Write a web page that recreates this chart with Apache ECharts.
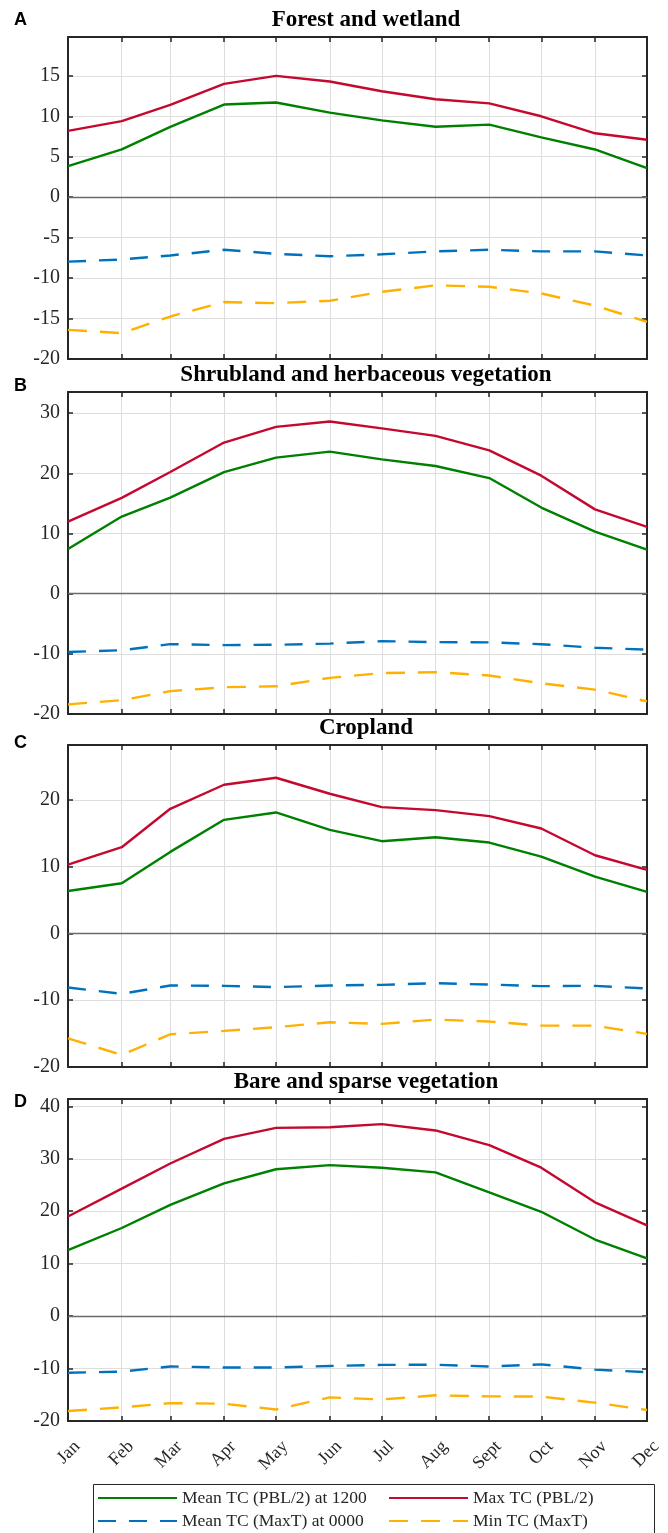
<!DOCTYPE html>
<html>
<head>
<meta charset="utf-8">
<script src="https://cdn.jsdelivr.net/npm/echarts@6/dist/echarts.min.js"></script>
<style>html,body{margin:0;padding:0;background:#fff}#c{width:668px;height:1533px}</style>
</head>
<body>
<div id="c"></div>
<script>
// ---- data ----
const months = ['Jan','Feb','Mar','Apr','May','Jun','Jul','Aug','Sept','Oct','Nov','Dec'];
const monthStartDay = [0,31,59,90,120,151,181,212,243,273,304,334];
const panelTitles = ['Forest and wetland','Shrubland and herbaceous vegetation','Cropland','Bare and sparse vegetation'];
const panelLetters = ['A','B','C','D'];
const seriesNames = ['Mean TC (PBL/2) at 1200','Max TC (PBL/2)','Mean TC (MaxT) at 0000','Min TC (MaxT)'];

const forestMean1200 = [3.85,5.9,8.7,11.45,11.7,10.45,9.5,8.7,8.97,7.4,5.9,3.6];
const forestMaxPBL   = [8.2,9.4,11.4,14.0,15.0,14.3,13.1,12.1,11.6,10.0,7.9,7.1];
const forestMean0000 = [-7.97,-7.7,-7.2,-6.5,-7.0,-7.3,-7.06,-6.7,-6.5,-6.7,-6.7,-7.2];
const forestMinMaxT  = [-16.4,-16.8,-14.75,-12.96,-13.1,-12.8,-11.7,-10.9,-11.07,-11.9,-13.4,-15.4];

const shrubMean1200 = [7.4,12.8,15.95,20.2,22.6,23.6,22.3,21.2,19.2,14.3,10.3,7.3];
const shrubMaxPBL   = [11.95,15.9,20.2,25.1,27.7,28.6,27.45,26.2,23.8,19.6,14.0,11.1];
const shrubMean0000 = [-9.7,-9.4,-8.4,-8.55,-8.5,-8.3,-7.9,-8.05,-8.1,-8.4,-9.0,-9.3];
const shrubMinMaxT  = [-18.4,-17.7,-16.2,-15.55,-15.4,-14.0,-13.2,-13.05,-13.6,-14.9,-15.95,-17.9];

const cropMean1200 = [6.35,7.5,12.2,17.0,18.1,15.5,13.8,14.4,13.6,11.5,8.5,6.2];
const cropMaxPBL   = [10.3,12.9,18.65,22.25,23.3,20.9,18.9,18.45,17.55,15.7,11.7,9.5];
const cropMean0000 = [-8.1,-9.05,-7.8,-7.85,-8.05,-7.8,-7.7,-7.46,-7.66,-7.9,-7.85,-8.25];
const cropMinMaxT  = [-15.7,-18.2,-15.1,-14.6,-14.05,-13.3,-13.55,-12.9,-13.2,-13.8,-13.8,-15.05];

const bareMean1200 = [12.6,16.8,21.2,25.3,28.0,28.8,28.3,27.4,23.6,19.9,14.6,11.0];
const bareMaxPBL   = [19.0,24.3,29.1,33.8,35.9,36.0,36.6,35.4,32.6,28.3,21.7,17.3];
const bareMean0000 = [-10.8,-10.6,-9.6,-9.8,-9.8,-9.5,-9.3,-9.27,-9.6,-9.2,-10.2,-10.7];
const bareMinMaxT  = [-18.1,-17.4,-16.6,-16.7,-17.8,-15.5,-15.9,-15.1,-15.3,-15.35,-16.5,-17.9];

const yTickInterval = [5,10,10,10];
const yMin = [-20,-20,-20,-20];
const yMax = [19.8,33.5,28.2,41.4];

// ---- chart ----
const panels = [
  [forestMean1200, forestMaxPBL, forestMean0000, forestMinMaxT],
  [shrubMean1200, shrubMaxPBL, shrubMean0000, shrubMinMaxT],
  [cropMean1200, cropMaxPBL, cropMean0000, cropMinMaxT],
  [bareMean1200, bareMaxPBL, bareMean0000, bareMinMaxT]
];
const colors = ['#008000','#C4082F','#0072BD','#FFB000'];
const dashes = ['solid','solid',[18,13],[19,13]];
const gridTops = [37, 392, 745, 1099];
const gridH = 322;
const titleCenters = [20.5, 375, 728.5, 1082.5];
const letterCenters = [20.3, 386.5, 743, 1102];
const SERIF = "'Liberation Serif', 'Times New Roman', serif";
const AX = '#262626';

const grid = [], xAxis = [], yAxis = [], series = [], title = [];
panels.forEach((p, pi) => {
  grid.push({left: 68, right: 21, top: gridTops[pi], height: gridH, containLabel: false});
  const tickCommon = {show: true, inside: true, length: 5, lineStyle: {color: AX, width: 1.5}, customValues: monthStartDay};
  xAxis.push({
    type: 'value', gridIndex: pi, position: 'bottom', min: 0, max: 334,
    axisLine: {show: true, onZero: false, lineStyle: {color: AX, width: 2}},
    axisTick: tickCommon,
    axisLabel: {
      show: pi === 3, customValues: monthStartDay, rotate: 45, margin: 8,
      verticalAlign: 'top', padding: [8, 4, 0, 0],
      fontFamily: SERIF, fontSize: 18, color: AX,
      formatter: v => months[monthStartDay.indexOf(v)]
    },
    splitLine: {show: true, lineStyle: {color: '#dedede', width: 1}}
  });
  xAxis.push({
    type: 'value', gridIndex: pi, position: 'top', min: 0, max: 334,
    axisLine: {show: true, onZero: false, lineStyle: {color: AX, width: 2}},
    axisTick: tickCommon,
    axisLabel: {show: false},
    splitLine: {show: false}
  });
  const yCommon = {
    type: 'value', gridIndex: pi, min: yMin[pi], max: yMax[pi], interval: yTickInterval[pi],
    axisLine: {show: true, onZero: false, lineStyle: {color: AX, width: 2}},
    axisTick: {show: true, inside: true, length: 5, lineStyle: {color: AX, width: 1.5}}
  };
  yAxis.push(Object.assign({}, yCommon, {
    position: 'left',
    axisLabel: {show: true, showMaxLabel: false, fontFamily: SERIF, fontSize: 20, color: AX, margin: 8},
    splitLine: {show: true, lineStyle: {color: '#dedede', width: 1}}
  }));
  yAxis.push(Object.assign({}, yCommon, {
    position: 'right',
    axisLabel: {show: false},
    splitLine: {show: false}
  }));
  p.forEach((vals, si) => {
    const s = {
      type: 'line', name: seriesNames[si], xAxisIndex: pi * 2, yAxisIndex: pi * 2,
      data: monthStartDay.map((d, i) => [d, vals[i]]),
      symbol: 'none', color: colors[si],
      lineStyle: {color: colors[si], width: 2.4, type: dashes[si]},
      silent: true, z: 3
    };
    if (si === 0) {
      s.markLine = {
        silent: true, symbol: ['none','none'], label: {show: false},
        lineStyle: {color: '#6a6a6a', width: 1.3, type: 'solid'},
        data: [{yAxis: 0}], z: 2
      };
    }
    series.push(s);
  });
  title.push({
    text: panelTitles[pi], left: 366, top: titleCenters[pi] - 11.5, textAlign: 'center', padding: 0,
    textStyle: {fontFamily: SERIF, fontWeight: 'bold', fontSize: 23, lineHeight: 23, color: '#000'}
  });
  title.push({
    text: panelLetters[pi], left: 14, top: letterCenters[pi] - 9, padding: 0,
    textStyle: {fontFamily: "'Liberation Sans', Arial, sans-serif", fontWeight: 'bold', fontSize: 18, lineHeight: 18, color: '#000'}
  });
});

const legendPos = [[97, 1489], [388, 1489], [97, 1512], [388, 1512]];
const legend = seriesNames.map((n, i) => ({
  data: [n], left: legendPos[i][0], top: legendPos[i][1], padding: 0,
  itemWidth: 79, itemHeight: 14, selectedMode: false,
  itemStyle: {opacity: 0},
  textStyle: {fontFamily: SERIF, fontSize: 17.5, lineHeight: 18, color: AX}
}));

const chart = echarts.init(document.getElementById('c'), null, {renderer: 'canvas'});
chart.setOption({
  backgroundColor: '#fff',
  animation: false,
  title, grid, xAxis, yAxis, series, legend,
  graphic: [{
    type: 'rect', left: 91, top: 1482, silent: true,
    shape: {width: 561, height: 60},
    style: {fill: 'none', stroke: AX, lineWidth: 1}
  }]
});
</script>
</body>
</html>
